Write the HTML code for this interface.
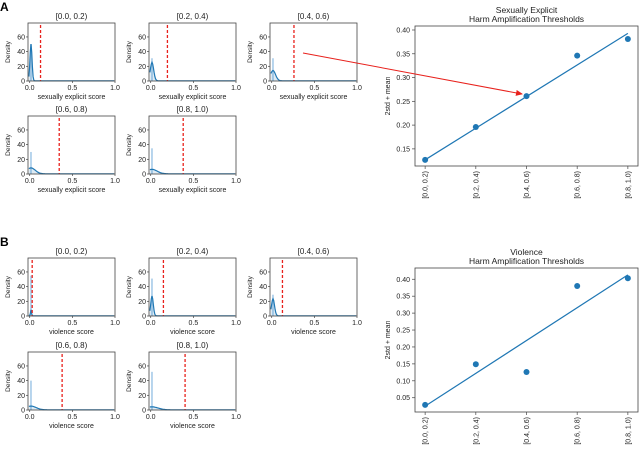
<!DOCTYPE html>
<html><head><meta charset="utf-8">
<style>
body{margin:0;background:#fff;}
svg{display:block;font-family:"Liberation Sans","DejaVu Sans",sans-serif;}
text{fill:#222;}
</style></head>
<body>
<svg id="fig" width="640" height="449" viewBox="0 0 640 449" xmlns="http://www.w3.org/2000/svg">
<defs>
<marker id="arrowhead" markerWidth="7" markerHeight="6" refX="6" refY="3" orient="auto"><path d="M0,0 L7,3 L0,6 z" fill="#e8211c"/></marker>
</defs>
<text x="0" y="11" font-size="12" font-weight="bold" style="fill:#000">A</text>
<text x="0" y="246" font-size="12" font-weight="bold" style="fill:#000">B</text>
</svg>
<script>
const bins = ["[0.0, 0.2)","[0.2, 0.4)","[0.4, 0.6)","[0.6, 0.8)","[0.8, 1.0)"];
const sexThresholds = [0.127, 0.196, 0.261, 0.346, 0.381];
const sexFitLine = [0.127, 0.393];
const sexHistPeak = [50, 31, 31, 30, 35];
const sexKdePeak = [50, 25, 14, 8, 6];
const sexKdeWidth = [0.012, 0.02, 0.03, 0.05, 0.06];
const vioThresholds = [0.029, 0.149, 0.126, 0.380, 0.403];
const vioFitLine = [0.025, 0.413];
const vioHistPeak = [55, 51, 29, 40, 52];
const vioKdePeak = [8, 27, 23, 5, 4];
const vioKdeWidth = [0.006, 0.015, 0.018, 0.06, 0.07];
const sexYTicks = [0.15, 0.20, 0.25, 0.30, 0.35, 0.40];
const vioYTicks = [0.05, 0.10, 0.15, 0.20, 0.25, 0.30, 0.35, 0.40];
const smallXTicks = [0, 0.5, 1.0];
const smallYTicks = [0, 20, 40, 60];

const svg = document.getElementById('fig');
const NS = "http://www.w3.org/2000/svg";
function el(tag, attrs, parent){
  const e = document.createElementNS(NS, tag);
  for (const k in attrs) e.setAttribute(k, attrs[k]);
  (parent||svg).appendChild(e);
  return e;
}
function txt(s, attrs, parent){ const e = el('text', attrs, parent); e.textContent = s; return e; }

function smallPlot(x0, y0, title, xlabel, thr, histH, kdeH, kdeW, key){
  const w = 87, h = 58;
  const g = el('g', {});
  
  
  const sx = v => x0 + (v + 0.02) / 1.02 * w;
  const sy = v => y0 + h - v / 79 * h;
  // histogram bar
  const bar = el('rect', {x: sx(0.005), y: sy(histH), width: Math.max(1.5, sx(0.025)-sx(0.005)), height: sy(0)-sy(histH), fill:'#9ec5e6', opacity:0.85}, g);
  
  
  // kde
  let d = '';
  for (let i = 0; i <= 120; i++){
    const v = -0.01 + i/120 * 1.0;
    const y = kdeH * Math.exp(-Math.pow((v-0.015)/kdeW, 2)/2) + 0.3;
    d += (i ? 'L' : 'M') + sx(v).toFixed(1) + ',' + sy(y).toFixed(1);
  }
  const fillP = el('path', {d: d + 'L' + sx(0.99) + ',' + sy(0) + 'L' + sx(-0.01) + ',' + sy(0) + 'Z', fill:'#1f77b4', opacity:0.15}, g);
  
  
  const kde = el('path', {d: d, fill:'none', stroke:'#1f77b4', 'stroke-width':1.2}, g);
  
  
  // threshold
  const vl = el('line', {x1: sx(thr), x2: sx(thr), y1: y0+2, y2: y0+h, stroke:'#e8211c', 'stroke-width':1.3, 'stroke-dasharray':'3,2'}, g);
  
  
  // frame
  const fr = el('rect', {x:x0, y:y0, width:w, height:h, fill:'none', stroke:'#444', 'stroke-width':0.8}, g);
  
  
  smallXTicks.forEach(t => {
    el('line', {x1:sx(t), x2:sx(t), y1:y0+h, y2:y0+h+2, stroke:'#444', 'stroke-width':0.7}, g);
    const tl = txt(t.toFixed(1), {x:sx(t), y:y0+h+9, 'font-size':7, 'text-anchor':'middle'}, g);
    
    
  });
  smallYTicks.forEach(t => {
    el('line', {x1:x0-2, x2:x0, y1:sy(t), y2:sy(t), stroke:'#444', 'stroke-width':0.7}, g);
    const tl = txt(String(t), {x:x0-3, y:sy(t)+2.5, 'font-size':7, 'text-anchor':'end'}, g);
    
    
  });
  const yl = txt('Density', {x:0, y:0, 'font-size':6.5, 'text-anchor':'middle', transform:'translate(' + (x0-18) + ',' + (y0+h/2) + ') rotate(-90)'}, g);
  
  
  const xl = txt(xlabel, {x:x0+w/2, y:y0+h+18, 'font-size':7, 'text-anchor':'middle'}, g);
  
  
  const tt = txt(title, {x:x0+w/2, y:y0-4, 'font-size':8, 'text-anchor':'middle'}, g);
  
  
}

const posA = [[28,23],[149,23],[270,23],[28,116],[149,116]];
const posB = [[28,258],[149,258],[270,258],[28,352],[149,352]];
for (let i = 0; i < 5; i++){
  smallPlot(posA[i][0], posA[i][1], bins[i], 'sexually explicit score', sexThresholds[i], sexHistPeak[i], sexKdePeak[i], sexKdeWidth[i], 'sexual-dist-' + i);
  smallPlot(posB[i][0], posB[i][1], bins[i], 'violence score', vioThresholds[i], vioHistPeak[i], vioKdePeak[i], vioKdeWidth[i], 'violence-dist-' + i);
}

function bigPlot(y0, h, ymin, ymax, vals, fit, ticks, t1, key){
  const x0 = 415, w = 223;
  const g = el('g', {});
  
  
  const sx = i => x0 + (i + 0.2) / 4.4 * w;
  const sy = v => y0 + h - (v - ymin) / (ymax - ymin) * h;
  const fr = el('rect', {x:x0, y:y0, width:w, height:h, fill:'none', stroke:'#444', 'stroke-width':0.8}, g);
  
  
  const ln = el('line', {x1:sx(0), y1:sy(fit[0]), x2:sx(4), y2:sy(fit[1]), stroke:'#1f77b4', 'stroke-width':1.2}, g);
  
  
  vals.forEach((v, i) => {
    const c = el('circle', {cx:sx(i), cy:sy(v), r:3, fill:'#1f77b4'}, g);
    
    
  });
  ticks.forEach(t => {
    el('line', {x1:x0-3, x2:x0, y1:sy(t), y2:sy(t), stroke:'#444', 'stroke-width':0.7}, g);
    const tl = txt(t.toFixed(2), {x:x0-5, y:sy(t)+2.5, 'font-size':7, 'text-anchor':'end'}, g);
    
    
  });
  bins.forEach((b, i) => {
    el('line', {x1:sx(i), x2:sx(i), y1:y0+h, y2:y0+h+3, stroke:'#444', 'stroke-width':0.7}, g);
    const tl = txt(b, {x:0, y:0, 'font-size':7, 'text-anchor':'end', transform:'translate(' + (sx(i)+2.5) + ',' + (y0+h+5) + ') rotate(-90)'}, g);
    
    
  });
  const yl = txt('2std + mean', {x:0, y:0, 'font-size':7, 'text-anchor':'middle', transform:'translate(390,' + (y0+h/2) + ') rotate(-90)'}, g);
  
  
  const ta = txt(t1, {x:x0+w/2, y:y0-13, 'font-size':8.5, 'text-anchor':'middle'}, g);
  
  
  const tb = txt('Harm Amplification Thresholds', {x:x0+w/2, y:y0-4, 'font-size':8.5, 'text-anchor':'middle'}, g);
  
  
}
bigPlot(26, 140, 0.114, 0.4084, sexThresholds, sexFitLine, sexYTicks, 'Sexually Explicit', 'sexual-threshold-chart');
bigPlot(268, 144, 0.0078, 0.4333, vioThresholds, vioFitLine, vioYTicks, 'Violence', 'violence-threshold-chart');

const arrow = el('line', {x1:303, y1:53, x2:522, y2:94, stroke:'#e8211c', 'stroke-width':1, 'marker-end':'url(#arrowhead)'});


</script>
</body></html>
